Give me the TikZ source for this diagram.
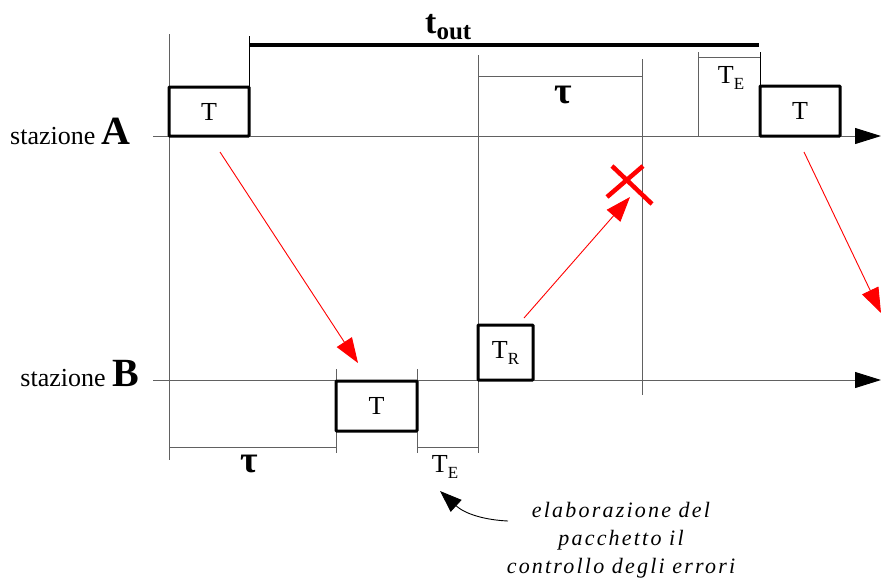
\documentclass[tikz,border=0pt]{standalone}
\usepackage{fontspec}
\setmainfont{Liberation Serif}
\newfontfamily\notefont[LetterSpace=10]{Liberation Serif}
\usetikzlibrary{arrows.meta}
\definecolor{thin}{gray}{0.38}
\newcommand\lowsub[1]{\raisebox{-6pt}{\fontsize{17}{17}\selectfont #1}}
\begin{document}
\begin{tikzpicture}[x=1pt,y=-1pt,
  thinline/.style={draw=thin, line width=0.9pt},
  darkline/.style={draw=black, line width=0.8pt},
  pbox/.style={draw=black, line width=3pt, fill=white, inner sep=0pt, rounded corners=0.8pt,
    font=\fontsize{26}{26}\selectfont},
  axis/.style={thinline, -{Triangle[length=26pt,width=16pt,color=black]}},
  msg/.style={draw=red, line width=0.9pt, -{Triangle[length=25pt,width=18pt,color=red]}},
  lbl/.style={inner sep=0pt, font=\fontsize{26}{26}\selectfont},
  taulbl/.style={inner sep=0pt, font=\fontsize{38}{38}\selectfont\bfseries},
  cross/.style={draw=red, line width=4.5pt},
]
\useasboundingbox (0,0) rectangle (881,579);
\fill[white] (0,0) rectangle (881,579);

% station labels
\node[anchor=base east, inner sep=0pt] (stA) at (131,144)
  {\fontsize{26}{26}\selectfont stazione \fontsize{40}{40}\selectfont\bfseries A};
\node[anchor=base east, inner sep=0pt] (stB) at (139,386)
  {\fontsize{26}{26}\selectfont stazione \fontsize{40}{40}\selectfont\bfseries B};

% time axes
\coordinate (A0) at (153,136); \coordinate (A1) at (881,136);
\coordinate (B0) at (153,380); \coordinate (B1) at (881,380);
\draw[axis] (A0) -- (A1);
\draw[axis] (B0) -- (B1);

% vertical guide lines
\coordinate (v1t) at (169,34);  \coordinate (v1b) at (169,460);
\coordinate (v2t) at (249,36);  \coordinate (v2b) at (249,87);
\coordinate (v3t) at (478,55);  \coordinate (v3b) at (478,453);
\coordinate (v4t) at (642,59);  \coordinate (v4b) at (642,395);
\coordinate (v5t) at (698,52);  \coordinate (v5b) at (698,136);
\coordinate (v6t) at (760,52);  \coordinate (v6b) at (760,86);
\coordinate (v7t) at (336,369); \coordinate (v7b) at (336,453);
\coordinate (v8t) at (417,369); \coordinate (v8b) at (417,453);
\draw[thinline] (v1t) -- (v1b);
\draw[darkline] (v2t) -- (v2b);
\draw[thinline] (v3t) -- (v3b);
\draw[thinline] (v4t) -- (v4b);
\draw[thinline] (v5t) -- (v5b);
\draw[darkline] (v6t) -- (v6b);
\draw[thinline] (v7t) -- (v7b);
\draw[thinline] (v8t) -- (v8b);

% dimension lines
\coordinate (tl) at (249,45); \coordinate (tr) at (759,45);
\draw[line width=4pt] (tl) -- (tr);
\node[anchor=base west, inner sep=0pt] (tout) at (425,33)
  {\fontsize{34}{34}\selectfont\bfseries t\raisebox{-6pt}{\fontsize{25}{25}\selectfont out}};

\coordinate (tau1l) at (478,76); \coordinate (tau1r) at (642,76);
\draw[thinline] (tau1l) -- (tau1r);
\node[taulbl] (tau1) at (563,95) {τ};

\coordinate (te1l) at (698,57); \coordinate (te1r) at (760,57);
\draw[thinline] (te1l) -- (te1r);
\node[lbl] (te1) at (731,78) {T\lowsub{E}};

\coordinate (tau2l) at (169,447); \coordinate (tau2r) at (336,447);
\draw[thinline] (tau2l) -- (tau2r);
\node[taulbl] (tau2) at (249,464) {τ};

\coordinate (te2l) at (417,447); \coordinate (te2r) at (478,447);
\draw[thinline] (te2l) -- (te2r);
\node[lbl] (te2) at (445,467) {T\lowsub{E}};

% packets
\node[pbox, minimum width=80pt, minimum height=49pt] (pA1) at (209,111.5) {T};
\node[pbox, minimum width=80pt, minimum height=50pt] (pA2) at (800,111) {T};
\node[pbox, minimum width=81pt, minimum height=50pt] (pB1) at (376.5,406) {T};
\node[pbox, minimum width=55pt, minimum height=55pt] (pTR) at (505.5,352.5) {T\lowsub{R}};

% messages
\coordinate (m1s) at (220,152); \coordinate (m1e) at (358,363);
\draw[msg] (m1s) -- (m1e);
\coordinate (m2s) at (804,152); \coordinate (m2e) at (881,313);
\draw[msg] (m2s) -- (m2e);
\coordinate (m3s) at (524,318); \coordinate (m3e) at (630,197);
\draw[msg] (m3s) -- (m3e);

% lost ack
\coordinate (x1a) at (612,166); \coordinate (x1b) at (652,204);
\coordinate (x2a) at (643,166); \coordinate (x2b) at (607,197);
\draw[cross] (x1a) -- (x1b);
\draw[cross] (x2a) -- (x2b);

% note
\node[anchor=base, inner sep=0pt, align=center,
  font={\notefont\itshape\fontsize{22}{28}\selectfont}] (note) at (621,573)
  {elaborazione del\\pacchetto il\\controllo degli errori};
\coordinate (ns) at (508,521); \coordinate (ne) at (440,491);
\draw[line width=0.9pt, -{Triangle[length=22pt,width=16pt]}] (ns) .. controls (485,520) and (465,514) .. (ne);
\end{tikzpicture}
\end{document}
